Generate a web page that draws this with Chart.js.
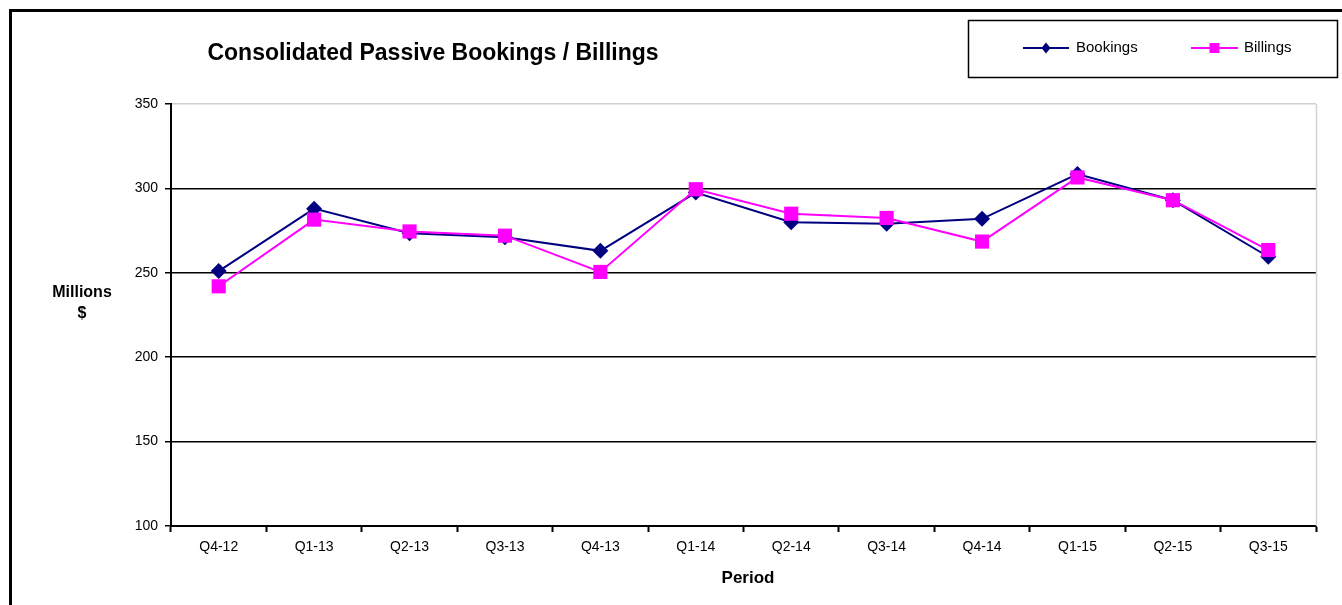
<!DOCTYPE html>
<html>
<head>
<meta charset="utf-8">
<title>Consolidated Passive Bookings / Billings</title>
<script src="https://cdn.jsdelivr.net/npm/chart.js@4.4.1/dist/chart.umd.min.js"></script>
<style>
  html, body { margin: 0; padding: 0; background: #fff; }
  #wrap { position: relative; width: 1342px; height: 605px; }
</style>
</head>
<body>
<div id="wrap"><canvas id="chart" width="1342" height="605"></canvas></div>
<script>
// quarterly passive bookings vs billings, millions of dollars
var periods = ["Q4-12", "Q1-13", "Q2-13", "Q3-13", "Q4-13", "Q1-14", "Q2-14", "Q3-14", "Q4-14", "Q1-15", "Q2-15", "Q3-15"];
var bookings = [251, 288, 273.5, 271, 263, 297.5, 280, 279, 282, 308.5, 293, 259.5];
var billings = [242, 281.5, 274.5, 272, 250.5, 299.5, 285, 282.5, 268.5, 306.5, 293, 263.5];
var yTicks = [100, 150, 200, 250, 300, 350];

var NAVY = "#000080", PINK = "#FF00FF";
var FONT = "Arial, 'Liberation Sans', sans-serif";

// frame, heading, axis titles and boxed legend, drawn straight onto the canvas
var decor = {
  id: "decor",
  afterDraw: function (chart) {
    var ctx = chart.ctx, a = chart.chartArea;
    ctx.save();

    // light right edge of the plot area
    ctx.strokeStyle = "#d4d4d4"; ctx.lineWidth = 1.5;
    ctx.beginPath(); ctx.moveTo(a.right + 0.5, a.top); ctx.lineTo(a.right + 0.5, a.bottom); ctx.stroke();

    // outer frame (top + left visible)
    ctx.strokeStyle = "#000"; ctx.lineWidth = 3;
    ctx.beginPath(); ctx.moveTo(9, 10.5); ctx.lineTo(1342, 10.5); ctx.stroke();
    ctx.beginPath(); ctx.moveTo(10.5, 9); ctx.lineTo(10.5, 605); ctx.stroke();

    ctx.fillStyle = "#000";
    ctx.textBaseline = "middle";
    ctx.textAlign = "center";

    ctx.font = "bold 23px " + FONT;
    ctx.fillText("Consolidated Passive Bookings / Billings", 433, 54);

    ctx.font = "bold 16px " + FONT;
    ctx.fillText("Millions", 82, 293);
    ctx.fillText("$", 82, 314);

    ctx.font = "bold 17px " + FONT;
    ctx.fillText("Period", 748, 578);

    // legend box
    ctx.lineWidth = 1.5;
    ctx.strokeRect(968.5, 20.5, 369, 57);
    var items = [
      { label: "Bookings", color: NAVY, style: "diamond", x0: 1023, x1: 1069, tx: 1076 },
      { label: "Billings", color: PINK, style: "square", x0: 1191, x1: 1238, tx: 1244 }
    ];
    items.forEach(function (it) {
      var cy = 48, cx = (it.x0 + it.x1) / 2;
      ctx.strokeStyle = it.color; ctx.lineWidth = 2;
      ctx.beginPath(); ctx.moveTo(it.x0, cy); ctx.lineTo(it.x1, cy); ctx.stroke();
      ctx.fillStyle = it.color;
      ctx.beginPath();
      if (it.style === "diamond") {
        ctx.moveTo(cx, cy - 5.5); ctx.lineTo(cx + 4.5, cy); ctx.lineTo(cx, cy + 5.5); ctx.lineTo(cx - 4.5, cy);
        ctx.closePath();
      } else {
        ctx.rect(cx - 5, cy - 5, 10, 10);
      }
      ctx.fill();
      ctx.fillStyle = "#000";
      ctx.textAlign = "left";
      ctx.font = "15px " + FONT;
      ctx.fillText(it.label, it.tx, cy);
    });

    ctx.restore();
  }
};

new Chart(document.getElementById("chart"), {
  type: "line",
  data: {
    labels: periods,
    datasets: [
      {
        label: "Bookings", data: bookings, order: 2,
        borderColor: NAVY, backgroundColor: NAVY, borderWidth: 2,
        pointStyle: "rectRot", pointRadius: 8, pointHoverRadius: 8,
        pointBorderWidth: 0, tension: 0
      },
      {
        label: "Billings", data: billings, order: 1,
        borderColor: PINK, backgroundColor: PINK, borderWidth: 2,
        pointStyle: "rect", pointRadius: 10, pointHoverRadius: 10,
        pointBorderWidth: 0, tension: 0
      }
    ]
  },
  options: {
    responsive: false,
    animation: false,
    layout: { padding: { left: 0, right: 26, top: 104, bottom: 0 } },
    plugins: {
      legend: { display: false },
      title: { display: false },
      tooltip: { enabled: false }
    },
    scales: {
      x: {
        offset: true,
        border: { color: "#000", width: 2 },
        grid: { drawOnChartArea: false, drawTicks: true, tickLength: 6, tickColor: "#000", tickWidth: 2, offset: true },
        ticks: { color: "#000", font: { family: FONT, size: 14 }, padding: 7, maxRotation: 0, autoSkip: false },
        afterFit: function (s) { s.height = 79; }
      },
      y: {
        min: 100, max: 350,
        afterBuildTicks: function (s) { s.ticks = yTicks.map(function (v) { return { value: v }; }); },
        border: { color: "#000", width: 2 },
        grid: {
          color: function (c) { return c.tick && c.tick.value === 350 ? "#cfcfcf" : "#000"; },
          lineWidth: 1.5, drawTicks: true, tickLength: 6, tickColor: "#000"
        },
        ticks: { color: "#000", font: { family: FONT, size: 14 }, padding: 7 },
        afterFit: function (s) { s.width = 171; }
      }
    }
  },
  plugins: [decor]
});
</script>
</body>
</html>
